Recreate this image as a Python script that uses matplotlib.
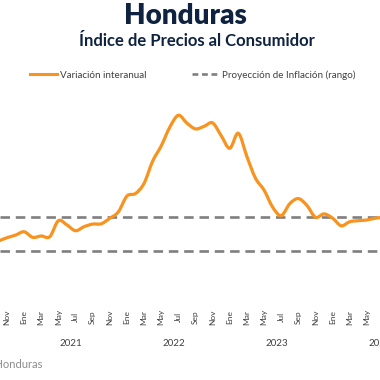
import matplotlib

matplotlib.use("Agg")
import matplotlib.pyplot as plt
import numpy as np
import pandas as pd
from matplotlib.lines import Line2D
from matplotlib.patches import PathPatch
from matplotlib.path import Path

# IPC Honduras, variación interanual (%), Oct 2020 - Jul 2024
meses = pd.period_range("2020-10", "2024-07", freq="M")
inflacion = [3.6, 3.8, 3.95,
             4.15, 3.82, 3.9, 3.86, 4.8, 4.55, 4.21, 4.45, 4.6, 4.62, 4.94, 5.32,
             6.25, 6.4, 7.0, 8.3, 9.2, 10.3, 11.0, 10.54, 10.2, 10.35, 10.55, 9.8,
             9.06, 9.94, 8.57, 7.3, 6.6, 5.6, 5.1, 5.8, 6.1, 5.7, 5.0, 5.2,
             4.95, 4.5, 4.74, 4.8, 4.84, 4.95, 5.0]
rango_meta = [3.0, 5.0]
abrev = ["Ene", "Feb", "Mar", "Abr", "May", "Jun", "Jul", "Ago", "Sep", "Oct", "Nov", "Dic"]
anios = [2021, 2022, 2023, 2024]

NARANJA = "#F7931E"
GRIS = "#7F7F7F"
AZUL = "#0F2340"
TEXTO = "#404040"

plt.rcParams["font.family"] = ["Lato", "DejaVu Sans"]


def smooth_path(x, y):
    # curva suave tipo Excel (Catmull-Rom -> Bezier cubica)
    pts = np.column_stack([x, y])
    verts = [pts[0]]
    codes = [Path.MOVETO]
    n = len(pts)
    for i in range(n - 1):
        p0 = pts[max(i - 1, 0)]
        p1 = pts[i]
        p2 = pts[i + 1]
        p3 = pts[min(i + 2, n - 1)]
        verts += [p1 + (p2 - p0) / 6, p2 - (p3 - p1) / 6, p2]
        codes += [Path.CURVE4] * 3
    return Path(verts, codes)


fig = plt.figure(figsize=(3.8, 3.8), dpi=100)
ax = fig.add_axes([0, 1 - 300 / 380, 1, 200 / 380])

x = np.arange(len(inflacion))
for v in rango_meta:
    ax.axhline(v, color=GRIS, linewidth=1.9, dashes=(3.6, 2.2))
ax.add_patch(PathPatch(smooth_path(x, np.array(inflacion)), facecolor="none",
                       edgecolor=NARANJA, linewidth=2.3, capstyle="round", zorder=3))

ax.set_xlim(0.187, 44.53)
ax.set_ylim(0.135, 11.9)

# etiquetas cada dos meses; Jul 2024 queda fuera del recorte
ticks = x[1:45:2]
ax.set_xticks(ticks)
ax.set_xticklabels([abrev[meses[i].month - 1] for i in ticks], rotation=90,
                   fontsize=6, color=TEXTO, va="center")
ax.tick_params(axis="x", length=0, pad=12.5)
ax.set_yticks([])
for s in ax.spines.values():
    s.set_visible(False)

for a in anios:
    idx = list(meses.year).index(a)
    ax.text(idx + 5.5, -0.215, str(a), transform=ax.get_xaxis_transform(),
            ha="center", va="center", fontsize=7, color=TEXTO)

fig.text(0.487, 1 - 16 / 380, "Honduras", ha="center", va="center",
         fontsize=20, fontweight="heavy", color=AZUL)
fig.text(0.519, 1 - 41 / 380, "Índice de Precios al Consumidor", ha="center", va="center",
         fontsize=12, fontweight="bold", color=AZUL)

handles = [Line2D([], [], color=NARANJA, linewidth=2.2),
           Line2D([], [], color=GRIS, linewidth=1.9, dashes=(2.2, 1.4))]
fig.legend(handles, ["Variación interanual", "Proyección de Inflación (rango)"],
           loc="center", bbox_to_anchor=(0.508, 1 - 75 / 380), ncol=2, frameon=False,
           fontsize=7.1, labelcolor=TEXTO, handlelength=2.75, handletextpad=0.3,
           columnspacing=4.6)

fig.text(42 / 380, 1 - 365 / 380, "Fuente: Banco Central de Honduras", ha="right",
         va="center", fontsize=8, color="#8C8C8C")

fig.savefig("out.png", dpi=100)
